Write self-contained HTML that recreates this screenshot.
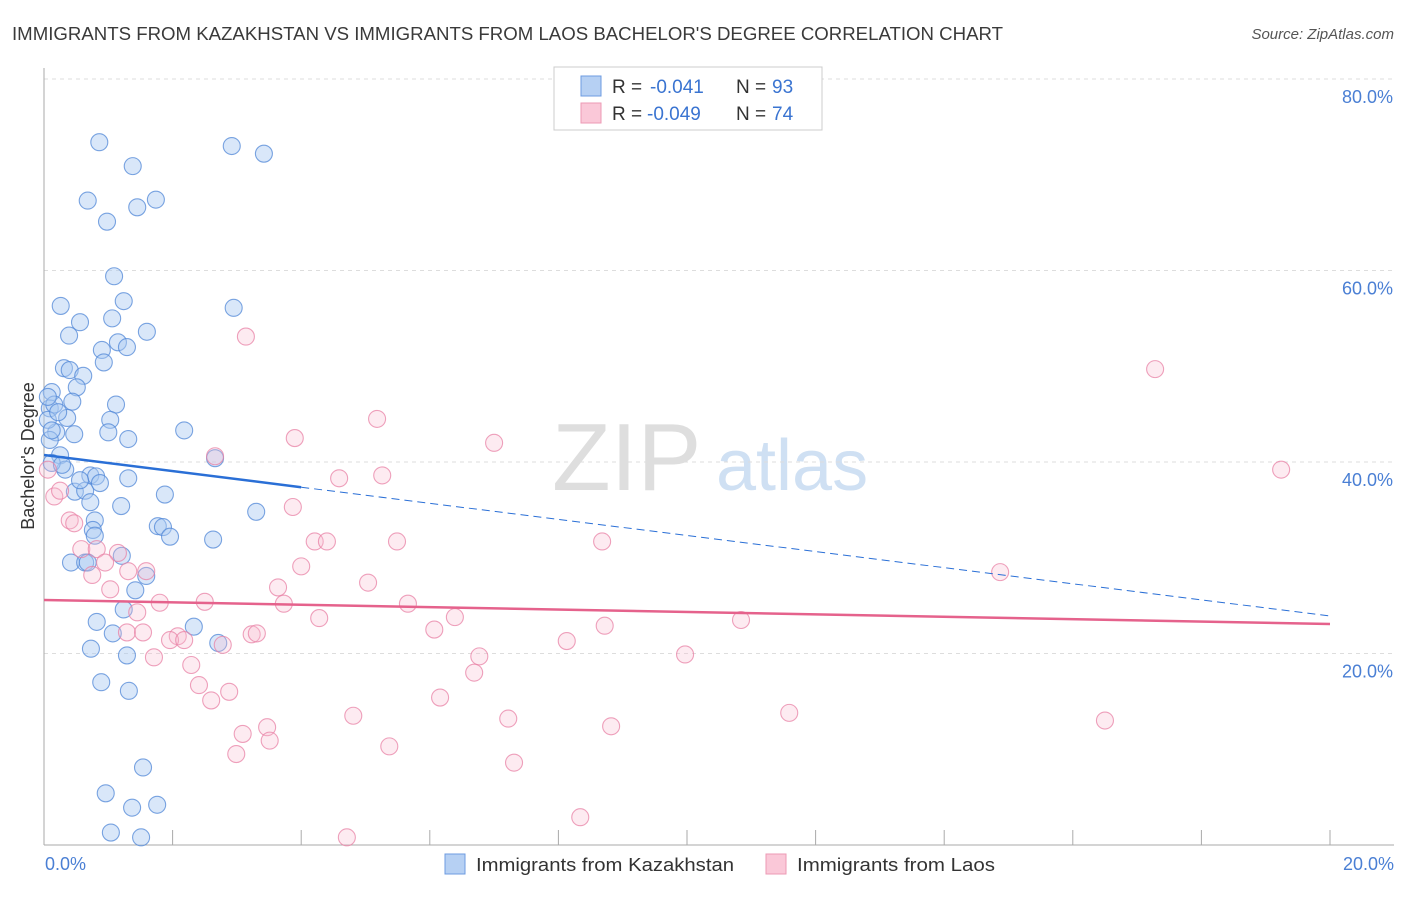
<!DOCTYPE html>
<html><head><meta charset="utf-8"><style>
body{margin:0;background:#fff;font-family:"Liberation Sans",sans-serif;}
svg text{font-family:"Liberation Sans",sans-serif;}
</style></head><body>
<svg id="chart" width="1406" height="892" xmlns="http://www.w3.org/2000/svg">
<text x="12" y="40" font-size="18" fill="#3a3a3a" textLength="991" lengthAdjust="spacingAndGlyphs">IMMIGRANTS FROM KAZAKHSTAN VS IMMIGRANTS FROM LAOS BACHELOR'S DEGREE CORRELATION CHART</text>
<text x="1394" y="39" font-size="15" fill="#555" font-style="italic" text-anchor="end">Source: ZipAtlas.com</text>
<g><text x="552" y="490" font-size="96" fill="#d6d6d6" font-family="Liberation Serif" opacity="0.8">ZIP</text><text x="716" y="490" font-size="72" fill="#bcd3ee" opacity="0.7">atlas</text></g>
<g id="grid"></g><g id="axes"></g><g id="pts"></g><g id="lines"></g>
<text x="34" y="456" font-size="18" fill="#333" text-anchor="middle" transform="rotate(-90 34 456)">Bachelor's Degree</text>
<text x="45" y="870" font-size="18" fill="#4a7fd4">0.0%</text>
<text x="1394" y="870" font-size="18" fill="#4a7fd4" text-anchor="end">20.0%</text>
<g>
<rect x="554" y="67" width="268" height="63" fill="#fff" stroke="#ccc"/>
<rect x="581" y="76" width="20" height="20" fill="#b6d0f3" stroke="#6d9be0"/>
<rect x="581" y="103" width="20" height="20" fill="#fac8d8" stroke="#ec9ab4"/>
<text x="612" y="93" font-size="19" fill="#333">R =</text><text x="650" y="93" font-size="19" fill="#3a74d1">-0.041</text>
<text x="736" y="93" font-size="19" fill="#333">N =</text><text x="772" y="93" font-size="19" fill="#3a74d1">93</text>
<text x="612" y="120" font-size="19" fill="#333">R =</text><text x="647" y="120" font-size="19" fill="#3a74d1">-0.049</text>
<text x="736" y="120" font-size="19" fill="#333">N =</text><text x="772" y="120" font-size="19" fill="#3a74d1">74</text>
</g>
<g>
<rect x="445" y="854" width="20" height="20" fill="#b6d0f3" stroke="#6d9be0"/>
<text x="476" y="871" font-size="18" fill="#333" textLength="258" lengthAdjust="spacingAndGlyphs">Immigrants from Kazakhstan</text>
<rect x="766" y="854" width="20" height="20" fill="#fac8d8" stroke="#ec9ab4"/>
<text x="797" y="871" font-size="18" fill="#333" textLength="198" lengthAdjust="spacingAndGlyphs">Immigrants from Laos</text>
</g>
</svg>
<script>
const yTicks=[20,40,60,80];
const xTicks=[0,2,4,6,8,10,12,14,16,18,20];
const blueX=[0.86,1.38,2.92,3.42,0.68,1.45,1.74,0.98,1.09,2.95,0.26,1.24,0.56,0.39,1.06,1.60,1.15,1.29,0.90,0.93,0.31,0.40,0.61,0.51,0.12,0.44,1.12,0.09,0.16,1.03,0.36,1.00,1.31,2.18,0.47,0.19,0.09,2.66,0.25,0.33,0.72,0.12,0.81,1.31,0.48,0.64,0.72,1.20,1.88,3.30,0.79,0.76,0.79,1.77,1.85,1.96,1.21,2.63,0.42,0.64,0.68,1.59,1.42,1.24,0.82,1.07,2.33,2.71,0.73,1.29,0.89,1.32,1.54,0.96,1.37,1.76,1.04,1.51,0.06,0.12,0.22,0.06,0.28,0.56,0.87];
const blueY=[73.4,70.9,73.0,72.2,67.3,66.6,67.4,65.1,59.4,56.1,56.3,56.8,54.6,53.2,55.0,53.6,52.5,52.0,51.7,50.4,49.8,49.6,49.0,47.8,47.3,46.3,46.0,45.6,46.0,44.4,44.6,43.1,42.4,43.3,42.9,43.1,42.3,40.4,40.7,39.2,38.6,39.9,38.5,38.3,36.9,37.0,35.8,35.4,36.6,34.8,33.9,32.9,32.3,33.3,33.2,32.2,30.2,31.9,29.5,29.5,29.5,28.1,26.6,24.6,23.3,22.1,22.8,21.1,20.5,19.8,17.0,16.1,8.1,5.4,3.9,4.2,1.3,0.8,44.4,43.3,45.2,46.8,39.7,38.1,37.8];
const pinkX=[3.14,17.28,5.18,7.00,3.90,2.66,19.24,5.26,4.59,0.16,0.25,0.06,0.40,0.47,3.87,4.21,4.40,5.49,8.68,0.58,0.82,1.15,0.95,0.75,1.31,1.59,4.00,5.04,14.87,3.64,3.73,1.03,5.66,1.80,2.50,1.45,6.39,4.28,1.29,1.54,2.08,1.96,2.18,6.07,8.72,10.84,3.23,3.31,2.78,8.13,6.77,1.71,9.97,2.29,6.69,2.41,2.88,2.60,6.16,4.81,7.22,11.59,16.50,8.82,3.47,3.09,3.51,5.37,2.99,7.31,8.34,4.71];
const pinkY=[53.1,49.7,44.5,42.0,42.5,40.6,39.2,38.6,38.3,36.4,37.0,39.2,33.9,33.6,35.3,31.7,31.7,31.7,31.7,30.9,30.9,30.5,29.5,28.2,28.6,28.6,29.1,27.4,28.5,26.9,25.2,26.7,25.2,25.3,25.4,24.3,23.8,23.7,22.2,22.2,21.8,21.4,21.4,22.5,22.9,23.5,22.0,22.1,20.9,21.3,19.7,19.6,19.9,18.8,18.0,16.7,16.0,15.1,15.4,13.5,13.2,13.8,13.0,12.4,12.3,11.6,10.9,10.3,9.5,8.6,2.9,0.8];
const blueTrend=[40.73,23.92];
const pinkTrend=[25.59,23.08];
const blueSolidEnd=[4.0];
const NS="http://www.w3.org/2000/svg";
const X=v=>44+v/20*1286;
const Y=v=>845-v*9.575;
function mk(tag,attrs,parent){const e=document.createElementNS(NS,tag);for(const k in attrs)e.setAttribute(k,attrs[k]);document.getElementById(parent).appendChild(e);return e;}
yTicks.forEach(t=>{
 const l=mk('line',{x1:44,x2:1395,y1:Y(t),y2:Y(t),stroke:'#ddd','stroke-dasharray':'4,4'},'grid');
 
 
 const tx=mk('text',{x:1393,y:Y(t)+24,'font-size':18,fill:'#4a7fd4','text-anchor':'end'},'grid');
 tx.textContent=t.toFixed(1)+'%';
 
 
});
const ax=mk('line',{x1:44,x2:44,y1:68,y2:845,stroke:'#aaa'},'axes');


const bx=mk('line',{x1:44,x2:1394,y1:845,y2:845,stroke:'#aaa'},'axes');


xTicks.forEach(t=>{
 const l=mk('line',{x1:X(t),x2:X(t),y1:830,y2:845,stroke:'#aaa'},'axes');
 
 
});
blueX.forEach((x,i)=>{
 const c=mk('circle',{cx:X(x),cy:Y(blueY[i]),r:8.5,fill:'rgba(170,202,242,0.45)',stroke:'rgba(80,135,215,0.75)','stroke-width':1.1},'pts');
 
 
});
pinkX.forEach((x,i)=>{
 const c=mk('circle',{cx:X(x),cy:Y(pinkY[i]),r:8.5,fill:'rgba(248,190,208,0.3)',stroke:'rgba(232,130,165,0.75)','stroke-width':1.1},'pts');
 
 
});
const bAt=x=>blueTrend[0]+(blueTrend[1]-blueTrend[0])*x/20;
const b1=mk('line',{x1:X(0),y1:Y(bAt(0)),x2:X(blueSolidEnd[0]),y2:Y(bAt(blueSolidEnd[0])),stroke:'#2a6fd6','stroke-width':2.5},'lines');


const b2=mk('line',{x1:X(blueSolidEnd[0]),y1:Y(bAt(blueSolidEnd[0])),x2:X(20),y2:Y(bAt(20)),stroke:'#2a6fd6','stroke-width':1,'stroke-dasharray':'8,5'},'lines');


const p1=mk('line',{x1:X(0),y1:Y(pinkTrend[0]),x2:X(20),y2:Y(pinkTrend[1]),stroke:'#e5628c','stroke-width':2.5},'lines');


</script>
</body></html>
